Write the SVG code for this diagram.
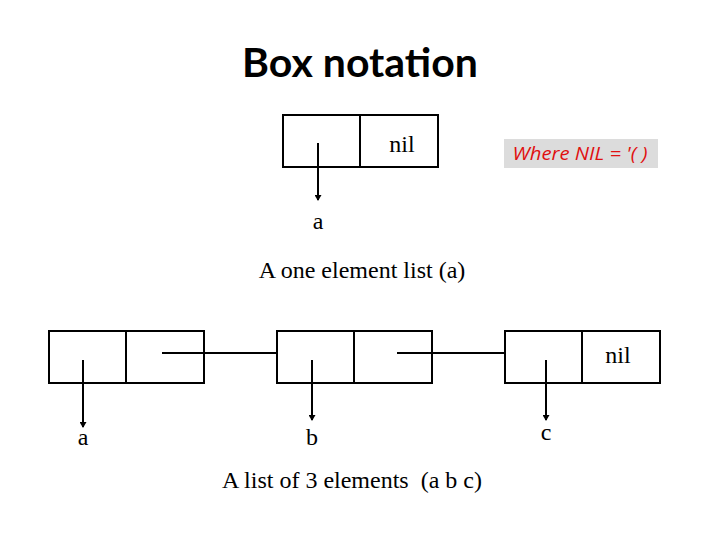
<svg xmlns="http://www.w3.org/2000/svg" width="720" height="540" viewBox="0 0 720 540">
<style>
.box{fill:none;stroke:#000;stroke-width:2}
.ln{stroke:#000;stroke-width:2;fill:none}
.t{font-family:"Liberation Serif","Times New Roman",serif;font-size:24px;fill:#000}
</style>
<defs>
<marker id="ah" markerWidth="6" markerHeight="7" refX="5" refY="3.5" orient="auto" markerUnits="userSpaceOnUse">
<path d="M0,0 L6,3.5 L0,7 Z" fill="#000"/>
</marker>
</defs>
<rect width="720" height="540" fill="#fff"/>
<text x="360" y="77" text-anchor="middle" font-family="Lato,'Open Sans',sans-serif" font-weight="bold" font-size="41">Box notation</text>
<g id="cell-top">
<rect class="box" x="283" y="115" width="155" height="52"/>
<line class="ln" x1="360" y1="115" x2="360" y2="167"/>
<text class="t" x="402" y="152" text-anchor="middle">nil</text>
</g>
<g id="note">
<rect x="504" y="139" width="154" height="29" fill="#dcdcdc"/>
<text x="580" y="160" text-anchor="middle" font-family="'Open Sans','DejaVu Sans',sans-serif" font-style="italic" font-size="18" textLength="135" lengthAdjust="spacingAndGlyphs" fill="#e01010">Where NIL = '( )</text>
</g>
<g id="label-a-top"><text class="t" x="318" y="229" text-anchor="middle">a</text></g>
<text class="t" x="362" y="278" text-anchor="middle">A one element list (a)</text>
<g id="cell1">
<rect class="box" x="49" y="331" width="155" height="52"/>
<line class="ln" x1="126" y1="331" x2="126" y2="383"/>
</g>
<g id="cell2">
<rect class="box" x="277" y="331" width="155" height="52"/>
<line class="ln" x1="354" y1="331" x2="354" y2="383"/>
</g>
<g id="cell3">
<rect class="box" x="505" y="331" width="155" height="52"/>
<line class="ln" x1="582" y1="331" x2="582" y2="383"/>
<text class="t" x="618" y="363" text-anchor="middle">nil</text>
</g>
<g id="label-a"><text class="t" x="83" y="445" text-anchor="middle">a</text></g>
<g id="label-b"><text class="t" x="312" y="445" text-anchor="middle">b</text></g>
<g id="label-c"><text class="t" x="546" y="440" text-anchor="middle">c</text></g>
<text class="t" x="352" y="488" text-anchor="middle" xml:space="preserve">A list of 3 elements  (a b c)</text>
<g id="connectors">
<line class="ln" x1="318" y1="143" x2="318" y2="200" marker-end="url(#ah)"/>
<line class="ln" x1="162" y1="353" x2="277" y2="353"/>
<line class="ln" x1="397" y1="353" x2="505" y2="353"/>
<line class="ln" x1="83" y1="360" x2="83" y2="427" marker-end="url(#ah)"/>
<line class="ln" x1="312" y1="360" x2="312" y2="420" marker-end="url(#ah)"/>
<line class="ln" x1="546" y1="360" x2="546" y2="420" marker-end="url(#ah)"/>
</g>
</svg>
